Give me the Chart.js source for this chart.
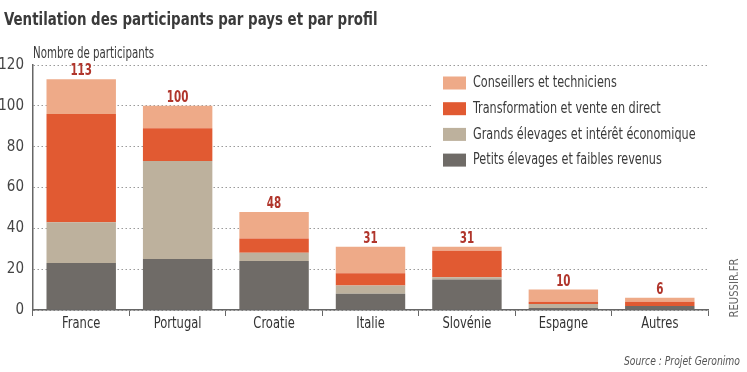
<!DOCTYPE html>
<html>
<head>
<meta charset="utf-8">
<script src="https://cdn.jsdelivr.net/npm/chart.js@4/dist/chart.umd.min.js"></script>
<style>
  html, body { margin: 0; padding: 0; background: #fff; }
  #wrap { width: 747px; height: 372px; }
</style>
</head>
<body>
<div id="wrap"><canvas id="chart" width="747" height="372"></canvas></div>
<script>
const countries = ['France', 'Portugal', 'Croatie', 'Italie', 'Slovénie', 'Espagne', 'Autres'];
const petits = [23, 25, 24, 8, 15, 1, 2];
const grands = [20, 48, 4, 4, 1, 2, 0];
const transformation = [53, 16, 7, 6, 13, 1, 2];
const conseillers = [17, 11, 13, 13, 2, 6, 2];
const totals = [113, 100, 48, 31, 31, 10, 6];
const yTicks = [0, 20, 40, 60, 80, 100, 120];

const FONT = '"Liberation Sans Narrow", "DejaVu Sans Condensed", sans-serif';

const data = {
    labels: countries,
    datasets: [
        { label: 'Petits élevages et faibles revenus', data: petits, backgroundColor: '#6f6b67' },
        { label: 'Grands élevages et intérêt économique', data: grands, backgroundColor: '#bdb19d' },
        { label: 'Transformation et vente en direct', data: transformation, backgroundColor: '#e15a32' },
        { label: 'Conseillers et techniciens', data: conseillers, backgroundColor: '#eeaa88' },
    ],
};

// the original font is narrower, so squeeze text horizontally
function squeezed(ctx, text, x, y, sx, align) {
    ctx.save();
    ctx.translate(x, y);
    ctx.scale(sx, 1);
    ctx.textAlign = align || 'left';
    ctx.fillText(text, 0, 0);
    ctx.restore();
}

const decorations = {
    id: 'decorations',
    afterDatasetsDraw(chart) {
        const ctx = chart.ctx;
        const x = chart.scales.x;
        const y = chart.scales.y;
        ctx.save();

        // totals above bars
        ctx.fillStyle = '#b0352b';
        ctx.font = 'bold 16px ' + FONT;
        ctx.textBaseline = 'alphabetic';
        totals.forEach((t, i) => {
            squeezed(ctx, String(t), x.getPixelForValue(i), y.getPixelForValue(t) - 4, 0.72, 'center');
        });

        // category labels
        ctx.fillStyle = '#333';
        ctx.font = '16px ' + FONT;
        x.ticks.forEach((tk, i) => {
            squeezed(ctx, chart.data.labels[tk.value], x.getPixelForTick(i), 328, 0.8, 'center');
        });

        // legend box (white, covers grid)
        ctx.fillStyle = '#fff';
        ctx.fillRect(432, 67, 280, 106);
        const order = [3, 2, 1, 0];
        ctx.font = '16px ' + FONT;
        ctx.textBaseline = 'middle';
        order.forEach((d, r) => {
            const ds = chart.data.datasets[d];
            const cy = 83 + r * 25.7;
            ctx.fillStyle = ds.backgroundColor;
            ctx.fillRect(443, cy - 6.5, 23, 13);
            ctx.fillStyle = '#3a3a3a';
            squeezed(ctx, ds.label, 473, cy, 0.78, 'left');
        });

        ctx.restore();
    },
    afterDraw(chart) {
        const ctx = chart.ctx;
        ctx.save();
        ctx.fillStyle = '#3a3a3a';
        ctx.textBaseline = 'alphabetic';
        ctx.font = 'bold 17px ' + FONT;
        squeezed(ctx, 'Ventilation des participants par pays et par profil', 4, 25, 0.875, 'left');

        ctx.font = '15px ' + FONT;
        squeezed(ctx, 'Nombre de participants', 33, 58, 0.76, 'left');

        ctx.fillStyle = '#555';
        ctx.font = 'italic 13px ' + FONT;
        squeezed(ctx, 'Source : Projet Geronimo', 740, 365, 0.79, 'right');

        ctx.translate(738, 288);
        ctx.rotate(-Math.PI / 2);
        ctx.font = '12px ' + FONT;
        ctx.fillStyle = '#666';
        squeezed(ctx, 'REUSSIR.FR', 0, 0, 0.93, 'center');
        ctx.restore();
    },
};

const config = {
    type: 'bar',
    data: data,
    options: {
        responsive: false,
        animation: false,
        layout: { padding: { left: 0, right: 39, top: 65, bottom: 32 } },
        datasets: { bar: { barPercentage: 0.72, categoryPercentage: 1 } },
        plugins: {
            legend: { display: false },
            title: { display: false },
            tooltip: { enabled: false },
        },
        scales: {
            x: {
                stacked: true,
                offset: true,
                afterFit(s) { s.height = 30; },
                grid: { offset: true, drawOnChartArea: false, tickLength: 6, color: '#666' },
                border: { color: '#666', width: 1.5 },
                ticks: { display: false },
            },
            y: {
                stacked: true,
                min: 0,
                max: 120,
                afterFit(s) { s.width = 33; },
                afterBuildTicks(s) { s.ticks = yTicks.map(v => ({ value: v })); },
                grid: { color: '#9a9a9a', lineWidth: 1, drawTicks: false },
                border: { color: '#666', width: 1.5, dash: [1.5, 2.5] },
                ticks: { color: '#444', font: { family: FONT, size: 15 }, padding: 9 },
            },
        },
    },
    plugins: [decorations],
};

const ctx = document.getElementById('chart').getContext('2d');
const myChart = new Chart(ctx, config);
</script>
</body>
</html>
